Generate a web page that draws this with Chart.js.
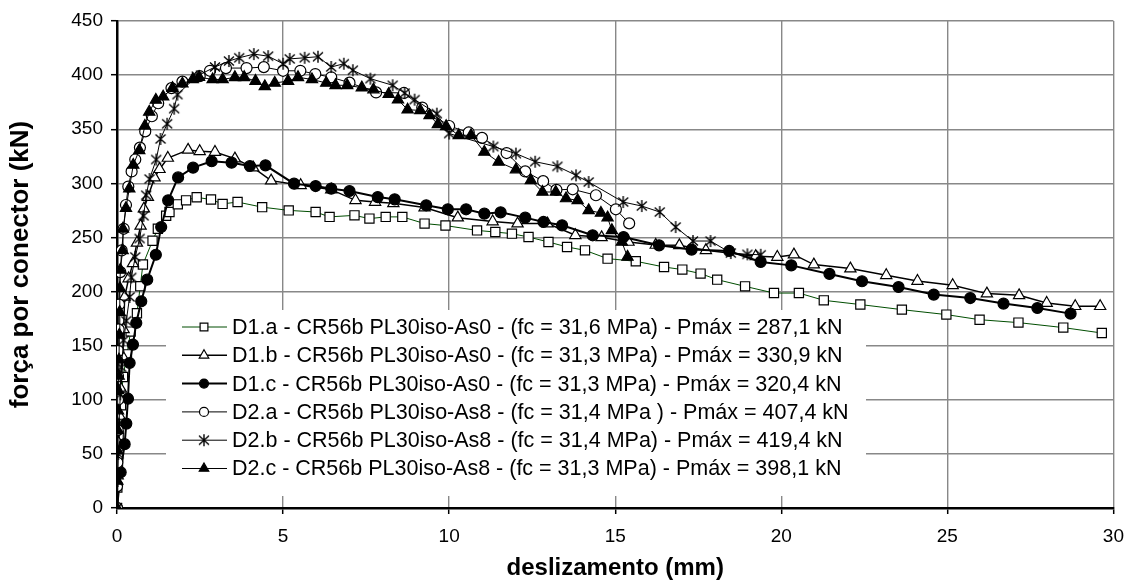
<!DOCTYPE html>
<html>
<head>
<meta charset="utf-8">
<script src="https://cdn.jsdelivr.net/npm/chart.js@4.4.1/dist/chart.umd.min.js"></script>
<style>
  html, body { margin: 0; padding: 0; background: #fff; }
  #wrap { width: 1135px; height: 583px; }
</style>
</head>
<body>
<div id="wrap"><canvas id="chart" width="1135" height="583"></canvas></div>
<script>
// axis ticks
const xTicks = [0, 5, 10, 15, 20, 25, 30];
const yTicks = [0, 50, 100, 150, 200, 250, 300, 350, 400, 450];

const labels = [
  "D1.a - CR56b PL30iso-As0 - (fc = 31,6 MPa) - Pmáx = 287,1 kN",
  "D1.b - CR56b PL30iso-As0 - (fc = 31,3 MPa) - Pmáx = 330,9 kN",
  "D1.c - CR56b PL30iso-As0 - (fc = 31,3 MPa) - Pmáx = 320,4 kN",
  "D2.a - CR56b PL30iso-As8 - (fc = 31,4 MPa ) - Pmáx = 407,4 kN",
  "D2.b - CR56b PL30iso-As8 - (fc = 31,4 MPa) - Pmáx = 419,4 kN",
  "D2.c - CR56b PL30iso-As8 - (fc = 31,3 MPa) - Pmáx = 398,1 kN",
];

// slip (mm) / load (kN)
const d1aX = [0, 0.01, 0.03, 0.05, 0.12, 0.18, 0.3, 0.41, 0.6, 0.7, 0.78, 1.07, 1.23, 1.48, 1.58, 1.83, 2.08, 2.4, 2.83, 3.18, 3.63, 4.37, 5.17, 5.98, 6.4, 7.15, 7.6, 8.09, 8.59, 9.26, 9.89, 10.84, 11.39, 11.89, 12.39, 12.99, 13.55, 14.09, 14.77, 15.62, 16.47, 17.02, 17.57, 18.07, 18.91, 19.78, 20.53, 21.28, 22.38, 23.63, 24.97, 25.97, 27.14, 28.49, 29.65];
const d1aY = [0, 19, 41, 67, 95, 121, 142, 163, 180, 205, 225, 247, 258, 270, 273.5, 280.6, 284.3, 287.1, 285, 281, 282.7, 278, 275, 273.5, 269, 270.4, 267.4, 269, 269, 262.8, 261, 256.5, 255, 253.5, 250.4, 245.8, 241.2, 238.1, 230.4, 228, 222.7, 220.3, 216.6, 211, 204.8, 198.6, 198.6, 191.9, 188, 183.3, 178.7, 174, 171.3, 166.7, 161.7];

const d1bX = [0, 0.02, 0.05, 0.08, 0.12, 0.17, 0.2, 0.23, 0.35, 0.48, 0.6, 0.71, 0.81, 0.93, 1.13, 1.28, 1.53, 2.14, 2.49, 2.95, 3.55, 4.1, 4.64, 5.53, 6.45, 7.18, 7.77, 8.32, 9.26, 10.26, 11.31, 12.06, 12.96, 13.8, 14.59, 15.4, 16.22, 16.93, 17.73, 19.23, 19.88, 20.38, 20.98, 22.08, 23.16, 24.1, 25.16, 26.19, 27.16, 27.99, 28.85, 29.6];
const d1bY = [0, 30, 60, 85, 110, 140, 165, 195, 212, 226, 245, 260.6, 276.6, 287.3, 305.3, 313, 323.4, 330.9, 329.6, 328.9, 322.8, 314.5, 302.5, 298.2, 294.2, 284.3, 282.7, 281.5, 277.6, 268.3, 264.7, 262.8, 262.8, 252, 250.1, 245.8, 243, 242.7, 238.1, 232.6, 231.9, 234.1, 224.9, 221.2, 215, 209.7, 205.8, 198.1, 196.5, 189.4, 186.4, 186.4];

const d1cX = [0, 0.11, 0.23, 0.28, 0.33, 0.38, 0.48, 0.58, 0.73, 0.91, 1.17, 1.33, 1.54, 1.84, 2.29, 2.85, 3.45, 4.0, 4.47, 5.33, 5.98, 6.45, 7.0, 7.85, 8.36, 9.31, 9.96, 10.51, 11.06, 11.55, 12.29, 12.84, 13.4, 14.32, 15.25, 16.32, 17.3, 18.43, 19.38, 20.3, 21.45, 22.43, 23.53, 24.59, 25.69, 26.69, 27.71, 28.71];
const d1cY = [0, 33, 59, 78, 101, 134, 151, 171, 191, 211, 234, 259.6, 284.3, 305.5, 314.5, 320.4, 319.1, 316, 316.6, 299.7, 297.5, 295.1, 292.9, 287.3, 285.2, 279.7, 276, 276, 272, 273.2, 268.3, 264.3, 261.2, 252, 250.4, 242.7, 238.8, 237.5, 227.3, 224.2, 216.3, 209.5, 204.2, 197.2, 194, 188.9, 184.8, 179.6];

const d2aX = [0, 0, 0.01, 0.02, 0.03, 0.03, 0.04, 0.05, 0.06, 0.1, 0.14, 0.2, 0.27, 0.34, 0.44, 0.55, 0.69, 0.85, 1.05, 1.24, 1.64, 1.97, 2.49, 2.8, 3.28, 3.9, 4.42, 5.0, 5.52, 5.97, 6.45, 7.0, 7.8, 8.64, 9.19, 10.0, 10.59, 10.99, 11.73, 12.29, 12.83, 13.23, 13.72, 14.42, 15.02, 15.42];
const d2aY = [0, 20, 42, 72, 100, 122, 145, 165, 188, 218, 238, 258, 280, 297, 311, 322, 333, 348, 362, 374, 388, 394, 399, 404, 406.5, 406.5, 407.4, 404, 404, 401, 398, 393, 384, 383.5, 370, 353, 347, 342, 328, 311, 302, 294, 294.5, 289, 276, 263];

const d2bX = [0, 0.02, 0.04, 0.06, 0.1, 0.13, 0.2, 0.28, 0.38, 0.43, 0.55, 0.68, 0.8, 0.88, 0.98, 1.18, 1.31, 1.51, 1.72, 1.82, 2.4, 2.95, 3.37, 3.68, 4.12, 4.55, 5.0, 5.2, 5.65, 6.05, 6.45, 6.83, 7.1, 7.63, 8.3, 8.66, 8.96, 9.63, 10.0, 11.33, 12.01, 12.59, 13.26, 13.82, 14.2, 15.24, 15.8, 16.34, 16.82, 17.34, 17.87, 18.48, 18.98, 19.38];
const d2bY = [0, 25, 50, 78, 105, 130, 155, 173, 195, 213, 232, 249, 270, 289, 304, 322, 341, 355, 369, 382, 399, 407.5, 413, 416, 419.4, 417.5, 410.5, 415, 416, 417, 407.5, 410.5, 404.5, 396.7, 390.6, 383.4, 377.3, 364.4, 346, 334, 327.5, 320, 315.7, 307.4, 301.2, 282.7, 279, 273.5, 259.6, 246.7, 246.7, 235.6, 234.4, 234];

const d2cX = [0, 0.01, 0.01, 0.02, 0.03, 0.03, 0.05, 0.06, 0.07, 0.08, 0.09, 0.1, 0.17, 0.18, 0.27, 0.37, 0.49, 0.67, 0.84, 0.97, 1.17, 1.39, 1.67, 1.97, 2.28, 2.47, 2.88, 3.18, 3.55, 3.83, 4.17, 4.45, 4.75, 5.15, 5.45, 5.87, 6.3, 6.58, 6.93, 7.37, 7.72, 8.18, 8.46, 8.75, 9.13, 9.41, 9.66, 9.91, 10.29, 10.66, 11.06, 11.49, 12.01, 12.46, 12.81, 13.21, 13.52, 13.87, 14.2, 14.57, 14.77, 14.9, 15.2, 15.37];
const d2cY = [0, 25, 53, 72, 90, 109, 122, 137, 160, 181, 203, 220, 238, 258, 277, 295, 317, 330.5, 353, 366, 377, 380, 388, 392, 396, 398.1, 396, 396, 398, 398, 394.5, 389.6, 392.7, 394.5, 398, 396, 392.7, 390.6, 390.6, 388.4, 386.6, 382.3, 377.3, 368, 367.4, 362.8, 354.5, 352.7, 344.4, 344.4, 329, 319.7, 312.7, 302.8, 292, 292, 286, 284.3, 275, 272.6, 268.3, 256.6, 245.8, 232];

const FONT = "'Liberation Sans', Arial, sans-serif";

const pts = (xs, ys) => xs.map((x, i) => ({ x: x, y: ys[i] }));

// asterisk marker (6 arms)
const star = document.createElement("canvas");
star.width = 14;
star.height = 14;
(function () {
  const c = star.getContext("2d");
  c.strokeStyle = "#000";
  c.lineWidth = 1.4;
  c.beginPath();
  c.moveTo(7, 1); c.lineTo(7, 13);
  c.moveTo(2, 2.5); c.lineTo(12, 11.5);
  c.moveTo(12, 2.5); c.lineTo(2, 11.5);
  c.stroke();
})();

const series = [
  { x: d1aX, y: d1aY, style: "rect", fill: "#fff", line: "#004d00", lw: 1, r: 6.5 },
  { x: d1bX, y: d1bY, style: "triangle", fill: "#fff", line: "#000", lw: 1.5, r: 6.5 },
  { x: d1cX, y: d1cY, style: "circle", fill: "#000", line: "#000", lw: 2, r: 5.5 },
  { x: d2aX, y: d2aY, style: "circle", fill: "#fff", line: "#000", lw: 1, r: 5.5 },
  { x: d2bX, y: d2bY, style: star, fill: "#000", line: "#000", lw: 1, r: 7 },
  { x: d2cX, y: d2cY, style: "triangle", fill: "#000", line: "#000", lw: 1, r: 6.5 },
];

const datasets = series.map((s, i) => ({
  label: labels[i],
  data: pts(s.x, s.y),
  borderColor: s.line,
  borderWidth: s.lw,
  pointStyle: s.style,
  pointRadius: s.r,
  pointBackgroundColor: s.fill,
  pointBorderColor: "#000",
  pointBorderWidth: 1.2,
  tension: 0,
  order: series.length - i,
}));

// legend drawn inside the plot area, on a white box
const innerLegend = {
  id: "innerLegend",
  afterDatasetsDraw(chart) {
    const ctx = chart.ctx;
    ctx.save();
    ctx.fillStyle = "#fff";
    ctx.fillRect(166, 310, 700, 186);
    ctx.font = "21.5px " + FONT;
    ctx.textBaseline = "middle";
    chart.data.datasets.forEach((ds, i) => {
      const y = 327 + i * 28.3;
      ctx.strokeStyle = ds.borderColor;
      ctx.lineWidth = ds.borderWidth;
      ctx.beginPath();
      ctx.moveTo(182, y);
      ctx.lineTo(227, y);
      ctx.stroke();
      ctx.fillStyle = ds.pointBackgroundColor;
      ctx.strokeStyle = "#000";
      ctx.lineWidth = 1.2;
      Chart.helpers.drawPoint(ctx, { pointStyle: ds.pointStyle, radius: ds.pointRadius - 1, borderWidth: 1.2, rotation: 0 }, 204, y);
      ctx.fillStyle = "#000";
      ctx.fillText(ds.label, 232, y + 1);
    });
    ctx.restore();
  },
};

new Chart(document.getElementById("chart"), {
  type: "line",
  data: { datasets: datasets },
  plugins: [innerLegend],
  options: {
    responsive: false,
    animation: false,
    layout: { padding: { left: 0, top: 21, right: 20, bottom: 0 } },
    plugins: {
      legend: { display: false },
      tooltip: { enabled: false },
    },
    scales: {
      x: {
        type: "linear",
        min: 0,
        max: 30,
        afterBuildTicks: (scale) => { scale.ticks = xTicks.map((v) => ({ value: v })); },
        afterFit: (scale) => { scale.height = 75; },
        ticks: { color: "#000", font: { family: FONT, size: 19 }, padding: 11, maxRotation: 0 },
        grid: { color: "#888", lineWidth: 1.4, tickColor: "#000", tickLength: 6, tickWidth: 1.5 },
        border: { color: "#000", width: 2.5 },
        title: { display: true, text: "deslizamento (mm)", color: "#000", font: { family: FONT, size: 24, weight: "bold" }, padding: { top: 2, bottom: 0 } },
      },
      y: {
        min: 0,
        max: 450,
        afterBuildTicks: (scale) => { scale.ticks = yTicks.map((v) => ({ value: v })); },
        afterFit: (scale) => { scale.width = 117; },
        ticks: { color: "#000", font: { family: FONT, size: 19 }, padding: 8 },
        grid: { color: "#888", lineWidth: 1.4, tickColor: "#000", tickLength: 6, tickWidth: 1.5 },
        border: { color: "#000", width: 2.5 },
        title: { display: true, text: "força por conector (kN)", color: "#000", font: { family: FONT, size: 26, weight: "bold" }, padding: { top: 5, bottom: 2 } },
      },
    },
  },
});
</script>
</body>
</html>
